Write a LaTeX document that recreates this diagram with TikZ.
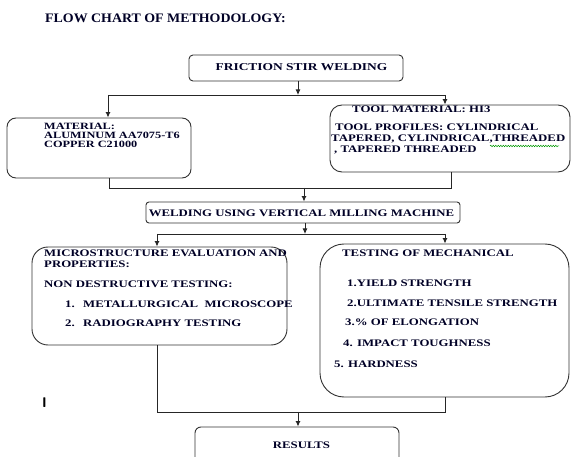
\documentclass[tikz,border=0pt]{standalone}
\usepackage{fontspec}
\setmainfont{Liberation Serif}
\newfontfamily\bxf{Liberation Serif}[FakeStretch=1.28]
\newfontfamily\ttlf{Liberation Serif}[FakeStretch=1.07]
\usetikzlibrary{arrows.meta,decorations.pathmorphing}
\begin{document}
\begin{tikzpicture}[x=1pt,y=-1pt,
  box/.style={draw=black!80, line width=0.9pt, inner sep=0pt},
  lnk/.style={draw=black!85, line width=0.9pt},
  arr/.style={lnk, -{Latex[length=5.5pt,width=5pt]}},
  txt/.style={anchor=base west, inner sep=0pt, text=black!85!blue, font=\bxf\bfseries\fontsize{10}{12}\selectfont},
  ctxt/.style={txt, anchor=base}]
\useasboundingbox[fill=white] (0,0) rectangle (571,457);
% boxes
\node[box, rounded corners=4pt, minimum width=214pt, minimum height=26pt] (fsw) at (296,68) {};
\node[box, rounded corners=9pt, minimum width=184pt, minimum height=60pt] (mat) at (99,148) {};
\node[box, rounded corners=12pt, minimum width=240pt, minimum height=67pt] (tool) at (450,138.5) {};
\node[box, rounded corners=3pt, minimum width=314pt, minimum height=21pt] (weld) at (303,212.5) {};
\node[box, rounded corners=16pt, minimum width=255pt, minimum height=98pt] (micro) at (159.5,296) {};
\node[box, rounded corners=24pt, minimum width=249pt, minimum height=153pt] (test) at (444.5,320.5) {};
\node[box, rounded corners=6pt, minimum width=204pt, minimum height=40pt] (res) at (297,447) {};
% connectors
\coordinate (j1) at (298,95);
\coordinate (jm) at (108,95);
\coordinate (jt) at (445,95);
\draw[arr] (fsw.south -| j1) -- (j1);
\draw[lnk] (jm) -- (jt);
\draw[arr] (jm) -- (jm |- mat.north);
\draw[arr] (jt) -- (jt |- tool.north);
\coordinate (mb) at (109,188);
\coordinate (tb) at (451,188);
\draw[lnk] (mb |- mat.south) -- (mb) -- (tb) -- (tb |- tool.south);
\coordinate (jw) at (304,188);
\draw[arr] (jw) -- (jw |- weld.north);
\coordinate (j2) at (305,234);
\draw[arr] (weld.south -| j2) -- (j2);
\coordinate (jmi) at (157,234);
\coordinate (jte) at (445,234);
\draw[lnk] (jmi) -- (jte);
\draw[arr] (jmi) -- (jmi |- micro.north);
\draw[arr] (jte) -- (jte |- test.north);
\coordinate (mib) at (157,412);
\coordinate (teb) at (445,412);
\draw[lnk] (mib |- micro.south) -- (mib) -- (teb) -- (teb |- test.south);
\coordinate (jr) at (298,412);
\draw[arr] (jr) -- (jr |- res.north);
% texts
\node[anchor=base west, inner sep=0pt, text=black!85!blue, font=\ttlf\bfseries\fontsize{13}{15}\selectfont] (title) at (45,23) {FLOW CHART OF METHODOLOGY:};
\node[ctxt, font=\bxf\bfseries\fontsize{10.5}{12}\selectfont] (fswt) at (301.5,71) {FRICTION STIR WELDING};
\node[txt, font=\bxf\bfseries\fontsize{9.6}{11}\selectfont] (m1) at (44,130) {MATERIAL:};
\node[txt, font=\bxf\bfseries\fontsize{9.6}{11}\selectfont] (m2) at (44,139) {ALUMINUM AA7075-T6};
\node[txt, font=\bxf\bfseries\fontsize{9.6}{11}\selectfont] (m3) at (44,148) {COPPER C21000};
\node[txt] (t1) at (352,113) {TOOL MATERIAL: HI3};
\node[txt] (t2) at (335,131) {TOOL PROFILES: CYLINDRICAL};
\node[txt] (t3) at (331,142) {TAPERED, CYLINDRICAL,THREADED};
\node[txt] (t4) at (334,153) {, TAPERED THREADED};
\coordinate (sq1) at (490,146);
\coordinate (sq2) at (559,146);
\draw[green!60!black, line width=0.5pt, decorate, decoration={snake, amplitude=0.7pt, segment length=2.5pt}] (sq1) -- (sq2);
\node[ctxt] (wt) at (301.5,217) {WELDING USING VERTICAL MILLING MACHINE};
\node[txt] (s1) at (44,257) {MICROSTRUCTURE EVALUATION AND};
\node[txt] (s2) at (44,268) {PROPERTIES:};
\node[txt] (s3) at (44,288) {NON DESTRUCTIVE TESTING:};
\node[txt] (s4n) at (65,308) {1.};
\node[txt] (s4) at (83,308) {METALLURGICAL\ \ MICROSCOPE};
\node[txt] (s5n) at (65,327) {2.};
\node[txt] (s5) at (83,327) {RADIOGRAPHY TESTING};
\node[txt] (e1) at (342,257) {TESTING OF MECHANICAL};
\node[txt] (e2) at (347,287) {1.YIELD STRENGTH};
\node[txt] (e3) at (347,307) {2.ULTIMATE TENSILE STRENGTH};
\node[txt] (e4) at (345,326) {3.\% OF ELONGATION};
\node[txt] (e5) at (343,347) {4. IMPACT TOUGHNESS};
\node[txt] (e6) at (334,367) {5. HARDNESS};
\node[ctxt] (rt) at (301.5,449) {RESULTS};
\node[anchor=base west, inner sep=0pt, font=\sffamily\bfseries\fontsize{14}{16}\selectfont] (cur) at (42,407) {I};
\end{tikzpicture}
\end{document}
